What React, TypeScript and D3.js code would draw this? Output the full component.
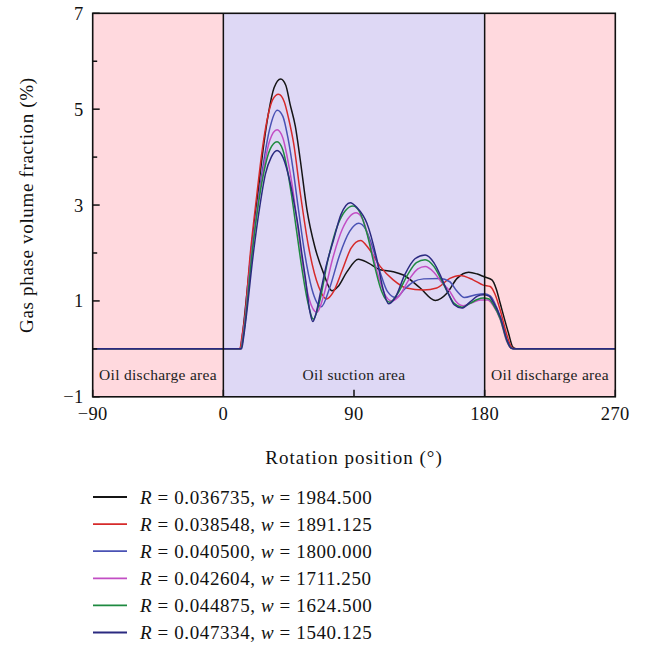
import React from "react";
import * as d3 from "d3";

const xTicks = [-90, 0, 90, 180, 270];
const yMajorTicks = [-1, 1, 3, 5, 7];
const yMinorTicks = [0, 2, 4, 6];

const regions = [
  { from: -90, to: 0, label: "Oil discharge area", kind: "discharge" },
  { from: 0, to: 180, label: "Oil suction area", kind: "suction" },
  { from: 180, to: 270, label: "Oil discharge area", kind: "discharge" },
];

const seriesR = ["0.036735", "0.038548", "0.040500", "0.042604", "0.044875", "0.047334"];
const seriesW = ["1984.500", "1891.125", "1800.000", "1711.250", "1624.500", "1540.125"];
const seriesColors = ["#151515", "#d62a2a", "#4a52b4", "#c24ec4", "#1e8a40", "#2b2a80"];

const black: [number, number][] = [
  [-90, 0], [11.5, 0], [13, 0.25], [15, 0.8], [19, 2.0], [24, 3.3], [28, 4.3], [31, 4.9], [35, 5.45],
  [39.5, 5.63], [43, 5.5], [46, 5.1], [49.6, 4.64], [53, 3.94], [57.6, 2.9], [63, 2.13], [69, 1.58],
  [74.8, 1.21], [79, 1.3], [85, 1.6], [93, 1.87], [100, 1.79], [108, 1.65], [117, 1.61], [124, 1.54],
  [135.6, 1.27], [146, 1.01], [154, 1.16], [161, 1.47], [169, 1.6], [175, 1.56], [180, 1.5], [185, 1.44],
  [188, 1.25], [190.7, 0.95], [196.4, 0.33], [199.4, 0.04], [202, 0], [270, 0],
];
const red: [number, number][] = [
  [-90, 0], [11.3, 0], [13, 0.3], [14.5, 0.6], [18.6, 2.0], [23, 3.2], [27, 4.2], [31, 4.9], [34, 5.2],
  [38, 5.31], [42, 5.15], [45, 4.8], [48.4, 4.29], [53, 3.25], [58.7, 2.13], [65.6, 1.3], [71, 1.04],
  [76, 1.2], [82, 1.65], [88, 2.1], [94.5, 2.26], [100, 2.1], [108, 1.72], [117, 1.44], [126, 1.27],
  [138, 1.23], [147, 1.27], [156, 1.47], [163, 1.53], [172, 1.44], [179, 1.33], [183.8, 1.3], [187, 1.15],
  [190.7, 0.81], [195.3, 0.29], [198.5, 0.04], [201, 0], [270, 0],
];
const blue: [number, number][] = [
  [-90, 0], [12, 0], [13.5, 0.25], [15, 0.6], [19.5, 2.0], [24, 3.1], [28, 3.95], [32, 4.6], [37.2, 4.98],
  [41, 4.85], [44.5, 4.4], [48, 3.75], [52, 2.85], [56, 2.0], [61, 1.25], [67.5, 0.88], [73, 1.25],
  [80, 1.95], [87, 2.45], [93.2, 2.62], [98, 2.5], [103, 2.1], [108, 1.6], [113, 1.2], [119, 1.07],
  [125, 1.25], [131, 1.4], [138, 1.46], [149, 1.47], [156, 1.4], [161, 1.2], [166, 1.07], [174, 1.13],
  [180, 1.15], [184, 1.1], [187, 0.95], [190.7, 0.67], [195.3, 0.19], [198, 0.03], [200, 0], [270, 0],
];
const magenta: [number, number][] = [
  [-90, 0], [12, 0], [13.5, 0.25], [15, 0.6], [19.5, 2.0], [24, 3.05], [28, 3.8], [32, 4.35], [37, 4.57],
  [41, 4.4], [44, 4.0], [47.5, 3.4], [51, 2.6], [55, 1.7], [59, 1.05], [64.5, 0.76], [69, 1.1], [75, 1.85],
  [82, 2.5], [91.5, 2.84], [96, 2.7], [101, 2.2], [106, 1.6], [111, 1.15], [116, 1.0], [121, 1.1],
  [128, 1.45], [134, 1.67], [139, 1.72], [145, 1.6], [150, 1.4], [156, 1.2], [160, 1.0], [165.4, 0.9],
  [171, 0.96], [177, 1.02], [182, 1.02], [186, 0.9], [190.7, 0.62], [195.3, 0.15], [198, 0.02], [200, 0],
  [270, 0],
];
const green: [number, number][] = [
  [-90, 0], [12.2, 0], [13.7, 0.25], [15, 0.55], [19.8, 2.0], [24, 3.0], [28, 3.7], [32, 4.15], [37, 4.32],
  [41, 4.15], [44, 3.75], [47, 3.2], [50.5, 2.45], [54, 1.7], [58, 1.0], [62, 0.62], [66, 0.95], [72, 1.85],
  [79, 2.6], [89.3, 2.98], [94, 2.85], [99, 2.4], [104, 1.75], [109, 1.2], [114.7, 0.97], [120, 1.15],
  [127, 1.55], [133, 1.8], [139, 1.86], [145, 1.72], [150, 1.45], [155, 1.15], [159, 0.95], [164.3, 0.87],
  [170, 0.95], [175, 1.03], [179, 1.06], [183, 1.04], [186, 0.92], [190.7, 0.63], [195.3, 0.17], [198, 0.02],
  [200, 0], [270, 0],
];
const navy: [number, number][] = [
  [-90, 0], [12.5, 0], [14, 0.25], [15.5, 0.6], [20.5, 1.95], [25, 2.95], [29, 3.65], [33, 4.0], [37, 4.14],
  [41, 4.0], [44, 3.72], [46.5, 3.4], [49, 3.0], [51.8, 2.5], [54, 2.0], [56.4, 1.5], [59.6, 0.78],
  [61.6, 0.57], [63.5, 0.7], [66.8, 1.16], [71, 1.75], [75.9, 2.27], [81, 2.8], [87.4, 3.05], [92, 2.95],
  [98.9, 2.62], [105.8, 1.86], [110, 1.25], [113.8, 0.94], [118, 1.05], [125, 1.55], [132, 1.88],
  [139, 1.96], [145, 1.8], [150, 1.5], [155, 1.15], [159, 0.92], [164.3, 0.85], [170, 0.98], [175, 1.1],
  [179, 1.13], [183, 1.1], [186, 0.97], [190.7, 0.67], [195.3, 0.19], [198, 0.02], [200, 0], [270, 0],
];

const seriesData = [black, red, blue, magenta, green, navy];

const W = 654;
const H = 645;
const FONT = "'Liberation Serif', 'DejaVu Serif', serif";

export default function App() {
  const x = d3.scaleLinear().domain([-90, 270]).range([92.7, 615.3]);
  const y = d3.scaleLinear().domain([-1, 7]).range([396.8, 13.3]);
  const line = d3
    .line<[number, number]>()
    .x((d) => x(d[0]))
    .y((d) => y(d[1]))
    .curve(d3.curveMonotoneX);

  const [x0, x1] = x.range();
  const [yb, yt] = y.range();
  const fmt = (v: number) => (v < 0 ? "\u2212" + Math.abs(v) : String(v));

  return (
    <svg
      width={W}
      height={H}
      style={{ position: "absolute", left: 0, top: 0, display: "block", background: "#fff" }}
      fontFamily={FONT}
    >
      <defs>
        <clipPath id="plotclip">
          <rect x={x0} y={yt} width={x1 - x0} height={yb - yt} />
        </clipPath>
      </defs>
      {regions.map((r, i) => (
        <rect
          key={"bg" + i}
          x={x(r.from)}
          y={yt}
          width={x(r.to) - x(r.from)}
          height={yb - yt}
          fill={r.kind === "suction" ? "#ded8f5" : "#ffd9de"}
        />
      ))}
      {regions.map((r, i) => (
        <text
          key={"rl" + i}
          x={(x(r.from) + x(r.to)) / 2}
          y={380}
          textAnchor="middle"
          fontSize={15.5}
          letterSpacing={0.3}
          fill="#222"
        >
          {r.label}
        </text>
      ))}
      <g clipPath="url(#plotclip)">
        {seriesData.map((d, i) => (
          <path key={"s" + i} d={line(d) ?? ""} fill="none" stroke={seriesColors[i]} strokeWidth={1.5} />
        ))}
      </g>
      {[0, 180].map((v) => (
        <line key={"v" + v} x1={x(v)} x2={x(v)} y1={yt} y2={yb} stroke="#111" strokeWidth={1.5} />
      ))}
      <rect x={x0} y={yt} width={x1 - x0} height={yb - yt} fill="none" stroke="#111" strokeWidth={1.6} />
      {yMajorTicks.map((v) => (
        <g key={"ym" + v}>
          <line x1={x0} x2={x0 + 7} y1={y(v)} y2={y(v)} stroke="#111" strokeWidth={1.5} />
          <text x={x0 - 9} y={y(v)} dy="0.35em" textAnchor="end" fontSize={18.5} letterSpacing={0.4} fill="#111">
            {fmt(v)}
          </text>
        </g>
      ))}
      {yMinorTicks.map((v) => (
        <line key={"yn" + v} x1={x0} x2={x0 + 4.5} y1={y(v)} y2={y(v)} stroke="#111" strokeWidth={1.5} />
      ))}
      {xTicks.map((v) => (
        <g key={"xt" + v}>
          <line x1={x(v)} x2={x(v)} y1={yb} y2={yb - 7} stroke="#111" strokeWidth={1.5} />
          <text x={x(v)} y={yb + 23} textAnchor="middle" fontSize={18.5} letterSpacing={0.4} fill="#111">
            {fmt(v)}
          </text>
        </g>
      ))}
      <text x={(x0 + x1) / 2} y={464} textAnchor="middle" fontSize={19} letterSpacing={1.0} fill="#111">
        Rotation position (°)
      </text>
      <text
        transform={`translate(33, ${(yt + yb) / 2}) rotate(-90)`}
        textAnchor="middle"
        fontSize={19}
        letterSpacing={0.67}
        fill="#111"
      >
        Gas phase volume fraction (%)
      </text>
      {seriesR.map((r, i) => {
        const ly = 497 + i * 27.1;
        return (
          <g key={"lg" + i}>
            <line x1={93} x2={127} y1={ly} y2={ly} stroke={seriesColors[i]} strokeWidth={1.8} />
            <text x={140} y={ly} dy="0.35em" fontSize={19} letterSpacing={0.6} fill="#111">
              <tspan fontStyle="italic">R</tspan>
              {" = " + r + ", "}
              <tspan fontStyle="italic">w</tspan>
              {" = " + seriesW[i]}
            </text>
          </g>
        );
      })}
    </svg>
  );
}
